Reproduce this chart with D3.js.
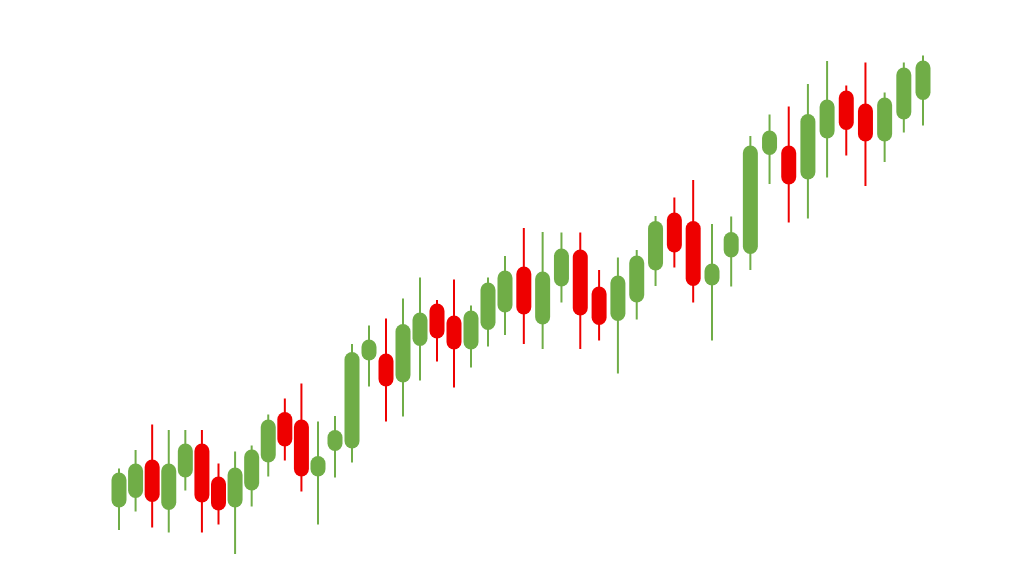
<!DOCTYPE html>
<html>
<head>
<meta charset="utf-8">
<script src="https://cdn.jsdelivr.net/npm/d3@7"></script>
<style>
  html, body { margin: 0; padding: 0; background: #ffffff; }
  svg { display: block; }
</style>
</head>
<body>
<svg id="chart" width="1024" height="576"></svg>
<script>
// Candle data (price units), in order of appearance
const opens  = [20.5,22.4,30.1,20.0,26.5,33.3,26.7,20.5,23.9,29.5,39.6,38.1,26.7,31.8,32.3,49.9,51.3,45.5,52.8,61.3,58.9,52.1,56.0,59.5,68.7,57.1,64.7,72.1,64.7,57.8,61.5,67.9,79.5,77.8,64.9,70.5,71.2,91.0,92.9,86.1,94.3,103.9,101.3,93.7,98.1,102.0];
const highs  = [28.3,32.0,37.1,36.0,36.0,36.0,29.3,31.7,32.9,39.1,42.3,45.3,37.7,38.8,53.2,56.9,58.3,62.3,66.5,62.0,66.1,60.9,66.5,70.8,76.4,75.6,75.5,75.5,68.0,70.5,72.0,78.8,82.5,86.0,77.2,78.7,94.8,99.1,100.7,105.2,109.8,104.9,109.5,103.5,109.5,110.9];
const lows   = [16.0,19.7,16.5,15.5,23.9,15.5,17.1,11.2,20.7,26.7,29.9,23.7,17.1,26.5,29.5,44.7,37.7,38.7,45.9,49.7,44.5,48.5,52.7,55.0,53.2,52.2,61.5,52.2,53.9,47.3,58.1,64.8,68.5,61.5,53.9,64.7,68.0,85.2,77.5,78.3,86.5,90.9,84.8,89.6,95.5,96.9];
const closes = [27.5,29.3,21.6,29.3,33.3,21.5,19.9,28.5,32.1,38.1,32.7,26.7,30.8,36.0,51.6,54.1,44.7,57.2,59.5,54.3,52.1,59.9,65.5,67.9,59.1,67.7,72.3,58.9,57.0,66.9,70.9,77.8,71.5,64.8,69.3,75.6,92.9,95.9,85.1,99.2,102.1,96.0,93.7,102.5,108.5,109.9];

const data = opens.map((o, i) => ({ i, open: o, high: highs[i], low: lows[i], close: closes[i] }));

const GREEN = "#70ad47";
const RED = "#ee0000";
const bodyW = 15;

// x: slightly widening spacing across the chart (polylinear scale)
const x = d3.scaleLinear()
  .domain([0, 12, 23, 34, 45])
  .range([119, 318, 505, 712, 923]);

const y = d3.scaleLinear()
  .domain([10, 112])
  .range([560, 50]);

const svg = d3.select("#chart");

const g = svg.append("g");

const candle = g.selectAll("g.candle")
  .data(data)
  .join("g")
  .attr("class", "candle");

candle.append("line")
  .attr("x1", d => x(d.i))
  .attr("x2", d => x(d.i))
  .attr("y1", d => y(d.high))
  .attr("y2", d => y(d.low))
  .attr("stroke", d => d.close >= d.open ? GREEN : RED)
  .attr("stroke-width", 2);

candle.append("rect")
  .attr("x", d => x(d.i) - bodyW / 2)
  .attr("width", bodyW)
  .attr("y", d => y(Math.max(d.open, d.close)))
  .attr("height", d => Math.abs(y(d.open) - y(d.close)))
  .attr("rx", bodyW / 2)
  .attr("ry", bodyW / 2)
  .attr("fill", d => d.close >= d.open ? GREEN : RED);
</script>
</body>
</html>
